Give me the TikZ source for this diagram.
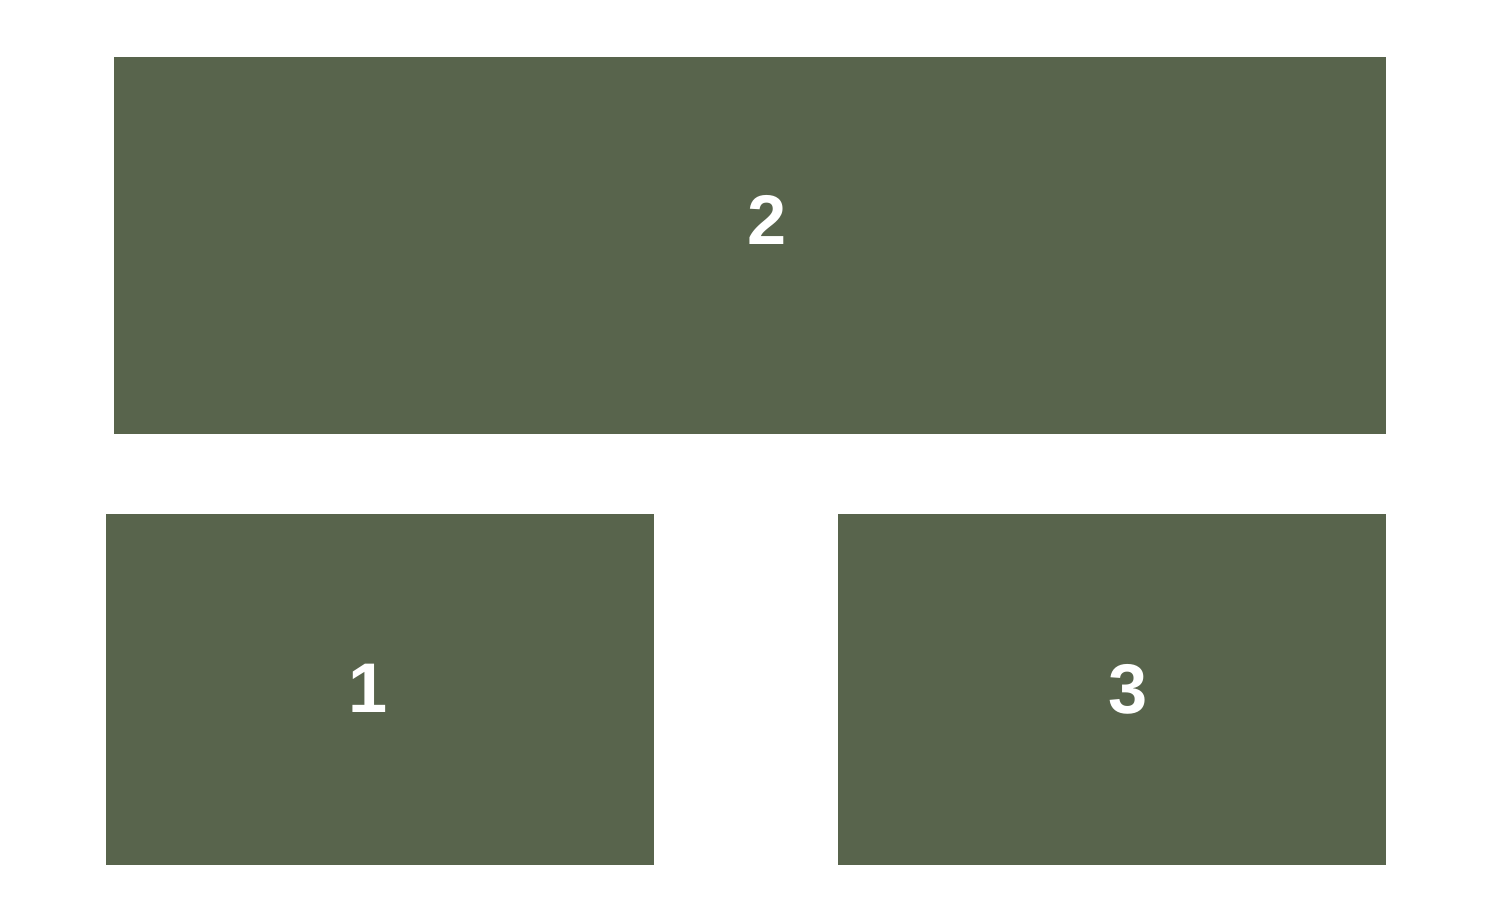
\documentclass[tikz,border=0pt]{standalone}
\usepackage{fontspec}
\setmainfont{Liberation Sans}
\usepackage{xcolor}
\usetikzlibrary{positioning, calc}
\definecolor{panelgreen}{RGB}{88,100,76}

\tikzset{
  panel/.style={rectangle, fill=panelgreen, draw=none, inner sep=0pt, anchor=south west},
  digit/.style={text=white, inner sep=0pt, font=\fontsize{40}{48}\selectfont\bfseries}
}

\begin{document}
\begin{tikzpicture}
      \useasboundingbox (0, 0) rectangle (30, 18);
      
      \node[panel, minimum width=25.44cm, minimum height=7.54cm] (top) at (2.28, 9.32) {};
      \node[panel, minimum width=10.96cm, minimum height=7.02cm] (left) at (2.12, 0.70) {};
      \node[panel, minimum width=10.96cm, minimum height=7.02cm] (right) at (16.76, 0.70) {};
      
      \node[digit] (two) at (15.34, 13.61) {2};
      \node[digit] (one) at (7.36, 4.24) {1};
      \node[digit] (three) at (22.56, 4.22) {3};

    \end{tikzpicture}
\end{document}
